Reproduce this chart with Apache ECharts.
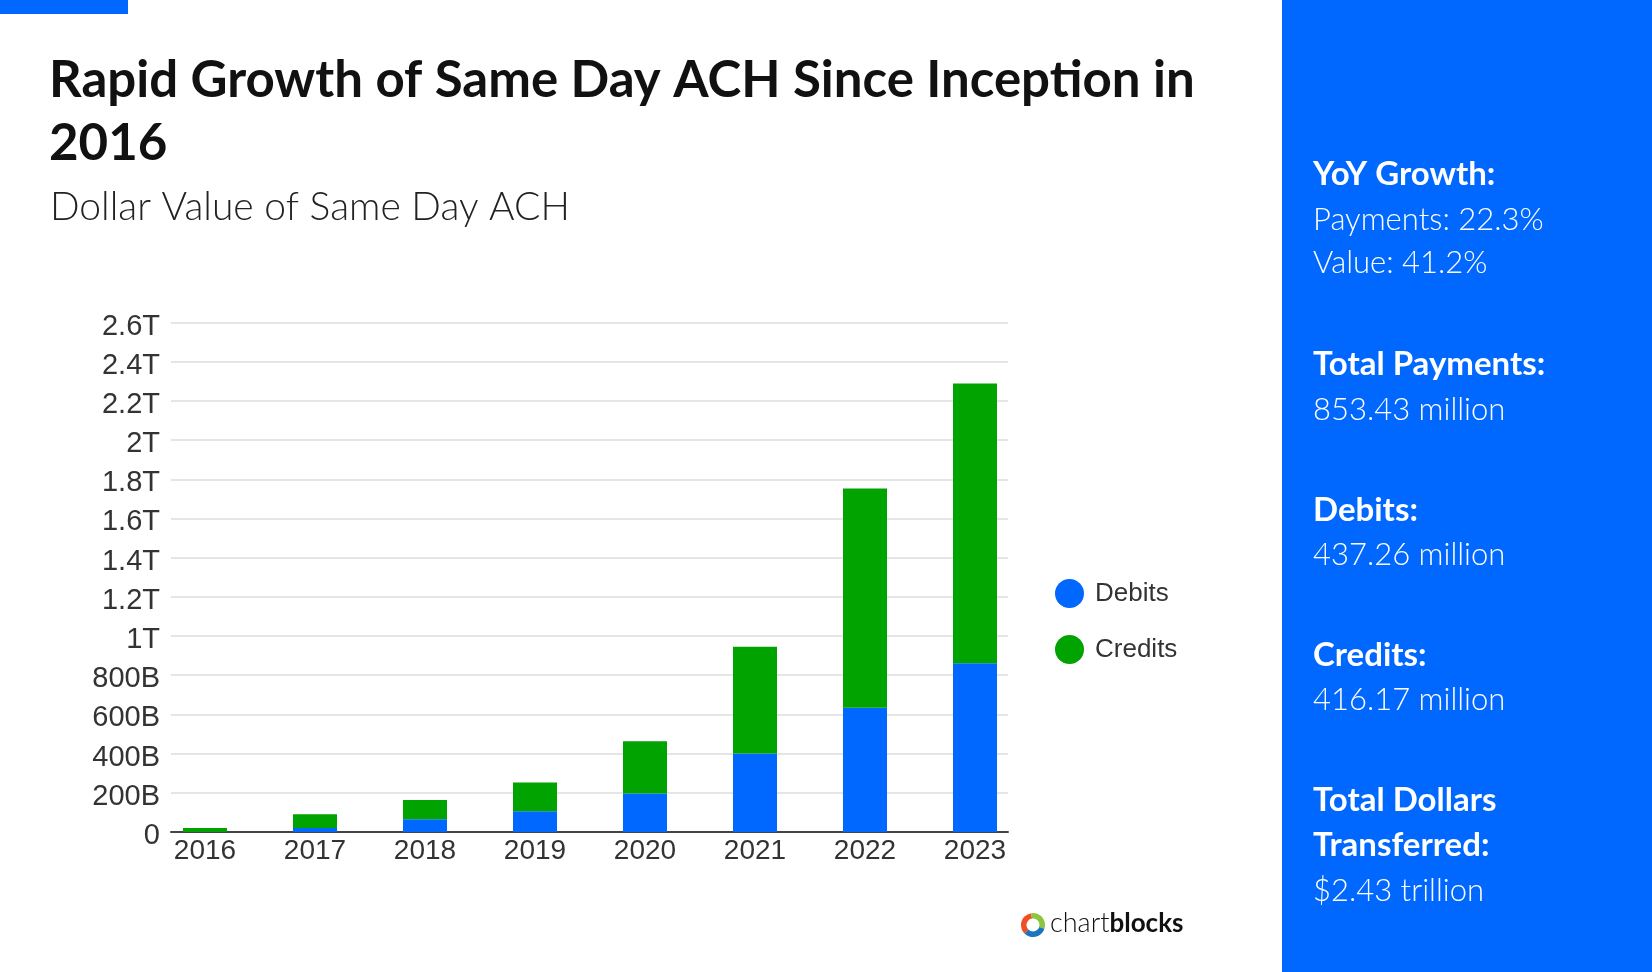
<!DOCTYPE html>
<html>
<head>
<meta charset="utf-8">
<title>Same Day ACH</title>
<script src="https://cdn.jsdelivr.net/npm/echarts@6/dist/echarts.min.js"></script>
<style>
  html, body { margin: 0; padding: 0; background: #fff; }
  #chart { width: 1652px; height: 972px; }
</style>
</head>
<body>
<div id="chart"></div>
<script>
// data, in billions of dollars
var years = ['2016', '2017', '2018', '2019', '2020', '2021', '2022', '2023'];
var debits = [0, 20, 65, 106, 196, 401, 634, 861];
var credits = [20, 70, 98, 146, 267, 544, 1119, 1428];
var seriesNames = ['Debits', 'Credits'];

// side panel text, heading lines are flagged true
var panelLines = [
    ['YoY Growth:', true],
    ['Payments: 22.3%', false],
    ['Value: 41.2%', false],
    ['Total Payments:', true],
    ['853.43 million', false],
    ['Debits:', true],
    ['437.26 million', false],
    ['Credits:', true],
    ['416.17 million', false],
    ['Total Dollars', true],
    ['Transferred:', true],
    ['$2.43 trillion', false]
];
// vertical centre of each panel line (layout only)
var panelY = [174, 220, 263, 364, 410, 510, 555, 655, 700, 800, 845, 891];

var BLUE = '#0068ff';
var GREEN = '#00a300';
var FONT = 'Lato, "Open Sans", sans-serif';
var AXISFONT = '"Liberation Sans", Arial, sans-serif';

function fmtValue(v) {
    if (v === 0) return '0';
    if (v >= 1000) return (v / 1000) + 'T';
    return v + 'B';
}

var panelGraphics = panelLines.map(function (line, i) {
    return {
        type: 'text', left: 1313, top: panelY[i] - 16,
        style: {
            text: line[0], fill: '#fff',
            font: line[1] ? 'bold 33px ' + FONT : '300 31px ' + FONT
        }
    };
});

var chart = echarts.init(document.getElementById('chart'));

var option = {
    backgroundColor: '#fff',
    animation: false,
    title: [
        {
            text: 'Rapid Growth of Same Day ACH Since Inception in\n2016',
            left: 44, top: 44,
            textStyle: { fontFamily: FONT, fontWeight: 'bold', fontSize: 51, lineHeight: 63, color: '#111' }
        },
        {
            text: 'Dollar Value of Same Day ACH',
            left: 45, top: 183,
            textStyle: { fontFamily: FONT, fontWeight: 300, fontSize: 39, color: '#222' }
        }
    ],
    legend: {
        orient: 'vertical',
        left: 1055, top: 579,
        icon: 'circle',
        itemWidth: 29, itemHeight: 29,
        itemGap: 27,
        padding: 0,
        data: seriesNames,
        textStyle: { fontFamily: AXISFONT, fontSize: 26, color: '#333', padding: [0, 0, 0, 6] }
    },
    grid: [
        { left: 171, width: 837, top: 322.5, height: 509.5 },
        { left: 150, width: 880, top: 322.5, height: 509.5 }
    ],
    xAxis: [
        {
            gridIndex: 0, type: 'category', data: years,
            axisLine: { lineStyle: { color: '#444', width: 2 } },
            axisTick: { show: false }, axisLabel: { show: false }
        },
        {
            gridIndex: 1, type: 'category', data: years,
            axisLine: { show: false }, axisTick: { show: false },
            axisLabel: { fontFamily: AXISFONT, fontSize: 28, color: '#333', margin: 5 }
        }
    ],
    yAxis: [
        {
            gridIndex: 0, type: 'value', min: 0, max: 2600, interval: 200,
            axisLine: { show: false }, axisTick: { show: false },
            axisLabel: {
                fontFamily: AXISFONT, fontSize: 29, color: '#333', margin: 11,
                verticalAlign: 'top', lineHeight: 8, formatter: fmtValue
            },
            splitLine: { lineStyle: { color: '#dcdcdc', width: 1.5 } }
        },
        { gridIndex: 1, type: 'value', min: 0, max: 2600, show: false }
    ],
    series: [
        {
            name: seriesNames[0], type: 'bar', stack: 'total', xAxisIndex: 1, yAxisIndex: 1,
            barWidth: 44, itemStyle: { color: BLUE }, data: debits, z: 1
        },
        {
            name: seriesNames[1], type: 'bar', stack: 'total', xAxisIndex: 1, yAxisIndex: 1,
            barWidth: 44, itemStyle: { color: GREEN }, data: credits, z: 1
        }
    ],
    graphic: [
        { type: 'rect', left: 0, top: 0, shape: { width: 128, height: 14 }, style: { fill: BLUE } },
        { type: 'rect', left: 1282, top: 0, shape: { width: 370, height: 972 }, style: { fill: BLUE }, z: -1 },
        // chartblocks mark
        { type: 'sector', shape: { cx: 1033, cy: 925, r: 12, r0: 6.5, startAngle: Math.PI * 0.75, endAngle: Math.PI * 1.45 }, style: { fill: '#f04e23' } },
        { type: 'sector', shape: { cx: 1033, cy: 925, r: 12, r0: 6.5, startAngle: Math.PI * 1.45, endAngle: Math.PI * 2.1 }, style: { fill: '#8cc63f' } },
        { type: 'sector', shape: { cx: 1033, cy: 925, r: 12, r0: 6.5, startAngle: Math.PI * 0.1, endAngle: Math.PI * 0.75 }, style: { fill: '#1c75bc' } },
        {
            type: 'text', left: 1050, top: 910,
            style: {
                text: '{a|chart}{b|blocks}',
                rich: {
                    a: { font: '300 27px ' + FONT, fill: '#111' },
                    b: { font: 'bold 26px ' + FONT, fill: '#111' }
                }
            }
        }
    ].concat(panelGraphics)
};

chart.setOption(option);
</script>
</body>
</html>
